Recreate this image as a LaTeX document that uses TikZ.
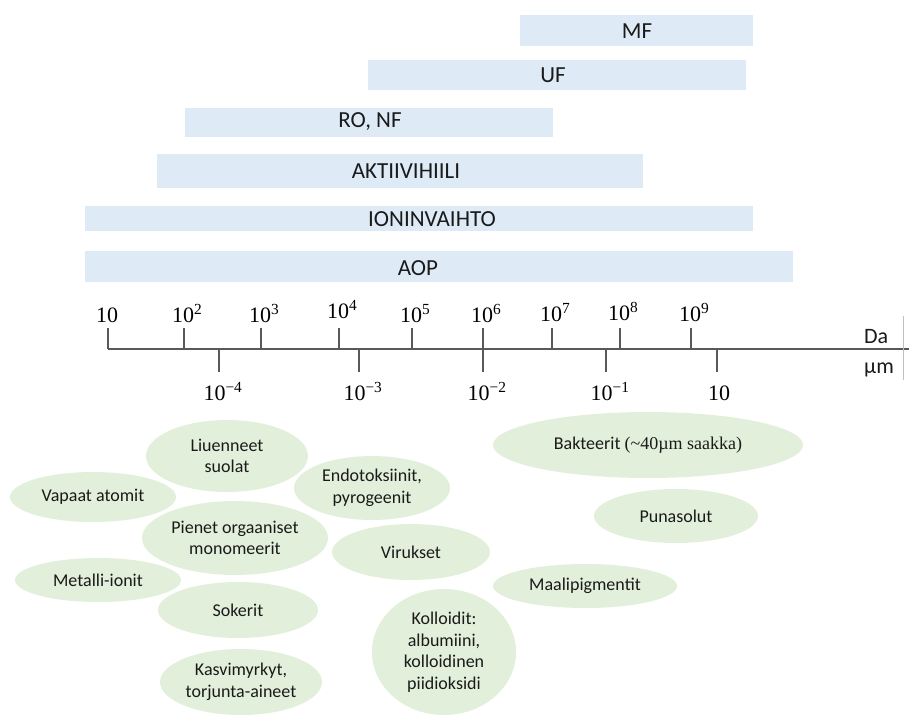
\documentclass[tikz,border=0pt]{standalone}
\usepackage{fontspec}
\setmainfont{Carlito}
\newfontfamily\timesfont{Liberation Serif}
\usepackage{tikz}
\usetikzlibrary{shapes.geometric}
\definecolor{barblue}{HTML}{DEEBF7}
\definecolor{blobgreen}{HTML}{E2EFDA}
\definecolor{axisgray}{HTML}{595959}
\definecolor{inkblack}{HTML}{1A1A1A}

\begin{document}
\begin{tikzpicture}[x=1pt, y=-1pt,
    bar/.style = {fill=barblue, inner sep=0pt},
    barlabel/.style = {font=\fontsize{23}{27}\selectfont, text=inkblack, inner sep=0pt},
    blob/.style = {ellipse, fill=blobgreen, inner sep=0pt, align=center,
                   font=\fontsize{18}{21.5}\selectfont, text=inkblack},
    tickline/.style = {axisgray, line width=1.3pt},
    scalelabel/.style = {font=\timesfont\fontsize{22}{26}\selectfont, inner sep=0pt}]
  \useasboundingbox (0,0) rectangle (909,715);

  % process bars
  \node[bar, minimum width=233pt, minimum height=31pt] (mf) at (636.5,30.5) {};
  \node[bar, minimum width=378pt, minimum height=30pt] (uf) at (557,75) {};
  \node[bar, minimum width=368pt, minimum height=29pt] (ronf) at (369,122.5) {};
  \node[bar, minimum width=486pt, minimum height=34pt] (akt) at (400,171) {};
  \node[bar, minimum width=668pt, minimum height=25pt] (ion) at (419,218.5) {};
  \node[bar, minimum width=708pt, minimum height=31pt] (aop) at (439,266.5) {};
  \node[barlabel] (mflabel) at (637,31) {MF};
  \node[barlabel] (uflabel) at (553,75) {UF};
  \node[barlabel] (ronflabel) at (370,122) {RO, NF};
  \node[barlabel] (aktlabel) at (406,171) {AKTIIVIHIILI};
  \node[barlabel] (ionlabel) at (432,219) {IONINVAIHTO};
  \node[barlabel] (aoplabel) at (418,268) {AOP};

  % size axis
  \coordinate (axisstart) at (108,349);
  \coordinate (axisend) at (909,349);
  \draw[tickline] (axisstart) -- (axisend);
  \draw[tickline] (108,328) -- (axisstart);
  \node[scalelabel, anchor=base west] (da1) at (96,322) {10};
  \foreach \x/\e/\yb in {184/2/322, 261/3/322, 339/4/318, 412/5/322,
                         483/6/322, 552/7/321, 620/8/320, 691/9/321} {
    \draw[tickline] (\x,328) -- (\x,349);
    \node[scalelabel, anchor=base west] (da\e) at (\x-12,\yb) {10\textsuperscript{\e}};
  }
  \foreach \x/\e in {219/4, 359/3, 483/2, 606/1} {
    \draw[tickline] (\x,349) -- (\x,372);
    \node[scalelabel, anchor=base] (um\e) at (\x+4,400) {10\textsuperscript{−\e}};
  }
  \draw[tickline] (717,349) -- (717,372);
  \node[scalelabel, anchor=base] (umten) at (719,400) {10};
  \node[barlabel, anchor=base west, font=\fontsize{22}{26}\selectfont] (dalabel) at (864,343) {Da};
  \node[barlabel, anchor=base west, font=\fontsize{22}{26}\selectfont] (umlabel) at (864,373) {µm};
  \draw[black!25, line width=0.8pt] (903,316) -- (903,380);

  % particles
  \node[blob, minimum width=162pt, minimum height=72pt] (liu) at (227,456) {Liuenneet\\suolat};
  \node[blob, minimum width=166pt, minimum height=50pt] (vap) at (93,497) {Vapaat atomit};
  \node[blob, minimum width=156pt, minimum height=64pt] (endo) at (372,488) {Endotoksiinit,\\pyrogeenit};
  \node[blob, minimum width=186pt, minimum height=74pt] (pien) at (235,538) {Pienet orgaaniset\\monomeerit};
  \node[blob, minimum width=158pt, minimum height=56pt] (vir) at (411,552) {Virukset};
  \node[blob, minimum width=166pt, minimum height=44pt] (met) at (98,580) {Metalli-ionit};
  \node[blob, minimum width=160pt, minimum height=56pt] (sok) at (238,610) {Sokerit};
  \node[blob, minimum width=162pt, minimum height=66pt] (kasv) at (241,682) {Kasvimyrkyt,\\torjunta-aineet};
  \node[blob, minimum width=144pt, minimum height=126pt] (koll) at (444,652) {Kolloidit:\\albumiini,\\kolloidinen\\piidioksidi};
  \node[blob, minimum width=310pt, minimum height=66pt] (bakt) at (648,445) {Bakteerit {\timesfont(\textasciitilde 40µm saakka)}};
  \node[blob, minimum width=164pt, minimum height=54pt] (puna) at (676,516) {Punasolut};
  \node[blob, minimum width=184pt, minimum height=44pt] (maali) at (585,586) {Maalipigmentit};
\end{tikzpicture}
\end{document}
